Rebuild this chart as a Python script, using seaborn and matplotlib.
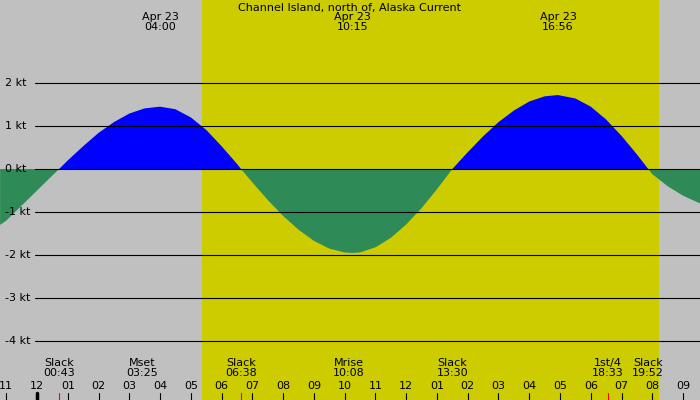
import numpy as np
import pandas as pd
import matplotlib
matplotlib.use('Agg')
import matplotlib.pyplot as plt
import seaborn as sns

# === Data (hours after midnight, knots) ===
hours = [-1.2, -1.0, -0.5, 0.0, 0.5, 0.717, 1.0, 1.5, 2.0, 2.5, 3.0, 3.5, 4.0,
         4.5, 5.0, 5.5, 6.0, 6.5, 6.633, 7.0, 7.5, 8.0, 8.5, 9.0, 9.5, 10.0,
         10.25, 10.5, 11.0, 11.5, 12.0, 12.5, 13.0, 13.5, 14.0, 14.5, 15.0,
         15.5, 16.0, 16.5, 16.933, 17.5, 18.0, 18.5, 19.0, 19.5, 19.867,
         20.0, 20.5, 21.0, 21.55]
knots = [-1.3, -1.2, -0.85, -0.5, -0.15, 0.0, 0.20, 0.53, 0.84, 1.09, 1.29, 1.41, 1.45,
         1.39, 1.20, 0.91, 0.53, 0.12, 0.0, -0.31, -0.72, -1.09, -1.41, -1.67, -1.85, -1.94,
         -1.95, -1.94, -1.82, -1.60, -1.29, -0.91, -0.47, 0.0, 0.39, 0.76, 1.09,
         1.36, 1.57, 1.69, 1.72, 1.64, 1.45, 1.15, 0.77, 0.34, 0.0,
         -0.12, -0.40, -0.62, -0.80]

peak_times = [4.0, 10.25, 16.933]
peak_labels = ['Apr 23\n04:00', 'Apr 23\n10:15', 'Apr 23\n16:56']

event_times = [0.717, 3.417, 6.633, 10.133, 13.5, 18.55, 19.867]
event_labels = ['Slack\n00:43', 'Mset\n03:25', 'Slack\n06:38', 'Mrise\n10:08',
                'Slack\n13:30', '1st/4\n18:33', 'Slack\n19:52']

hour_ticks = list(range(-1, 22))
hour_labels = ['11', '12', '01', '02', '03', '04', '05', '06', '07', '08', '09', '10', '11',
               '12', '01', '02', '03', '04', '05', '06', '07', '08', '09']
kt_levels = [2, 1, 0, -1, -2, -3, -4]

daylight = (5.36, 20.22)

# === Plot ===
df = pd.DataFrame({'hour': hours, 'knots': knots})
sns.set_theme(style='white')
plt.rcParams['font.family'] = ['DejaVu Sans']
plt.rcParams['text.color'] = 'black'

fig = plt.figure(figsize=(7, 4), dpi=100)
ax = fig.add_axes([0, 0, 1, 1])
ax.set_facecolor('#c0c0c0')
ax.axvspan(*daylight, color='#cccc00', lw=0)

t = df['hour'].to_numpy()
v = df['knots'].to_numpy()
ax.fill_between(t, v, 0, where=v >= 0, interpolate=True, color='#0000ff', lw=0)
ax.fill_between(t, v, 0, where=v <= 0, interpolate=True, color='#2e8b57', lw=0)

for k in kt_levels:
    ax.axhline(k, xmin=0.05, xmax=1, color='black', lw=0.8)
    ax.text(-1.05, k, f'{k} kt', fontsize=8, va='center', ha='left')

ax.text(0.5, 0.992, 'Channel Island, north of, Alaska Current', transform=ax.transAxes,
        ha='center', va='top', fontsize=8)
for pt, lab in zip(peak_times, peak_labels):
    ax.text(pt, 3.65, lab, ha='center', va='top', fontsize=8, linespacing=1.0)

for et, lab in zip(event_times, event_labels):
    ax.text(et, -4.4, lab, ha='center', va='top', fontsize=8, linespacing=1.0)

for h, lab in zip(hour_ticks, hour_labels):
    ax.text(h, -5.05, lab, ha='center', va='center', fontsize=8)
    ax.plot([h, h], [-5.37, -5.2], color='black', lw=0.8)
ax.plot([0, 0], [-5.37, -5.2], color='black', lw=2.5)
for et in [0.717, 6.633, 18.55]:
    ax.plot([et, et], [-5.37, -5.2], color='red', lw=0.8)

ax.set_xlim(-1.203, 21.55)
ax.set_ylim(-5.37, 3.93)
ax.set_xticks([])
ax.set_yticks([])
for s in ax.spines.values():
    s.set_visible(False)

fig.savefig('out.png', dpi=100)
